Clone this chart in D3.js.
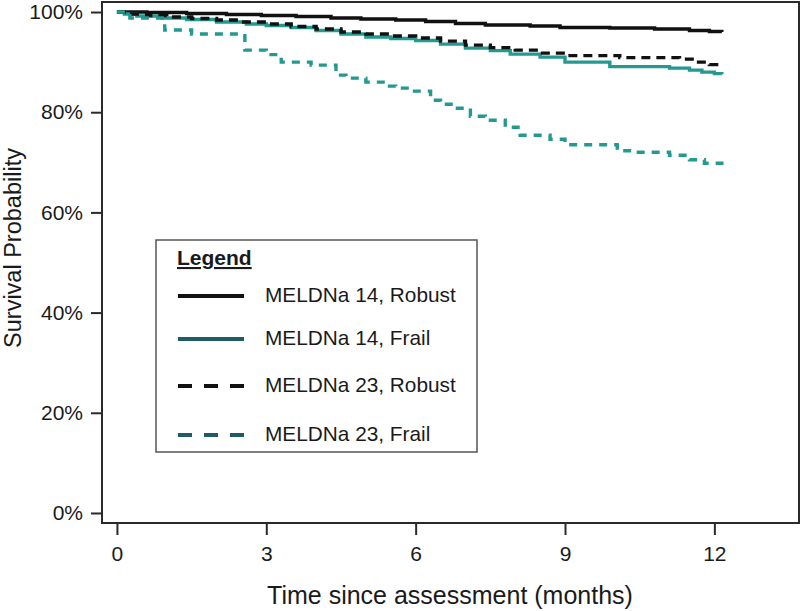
<!DOCTYPE html>
<html>
<head>
<meta charset="utf-8">
<title>Survival by MELDNa and frailty</title>
<script src="https://cdn.jsdelivr.net/npm/d3@7"></script>
<style>
    body { margin: 0; background: #ffffff; }
    svg { display: block; font-family: 'Liberation Sans', Arial, sans-serif; }
</style>
</head>
<body>
<div id="chart"></div>
<script>
// Kaplan-Meier style curves

const seriesNames = ['MELDNa 14, Robust', 'MELDNa 14, Frail', 'MELDNa 23, Robust', 'MELDNa 23, Frail'];

const robust14Time = [0, 0.6, 1.4, 2.2, 2.9, 3.6, 4.3, 4.9, 5.6, 6.2, 6.8, 7.4, 8.3, 8.9, 9.9, 10.8, 11.5, 11.9, 12.15];
const robust14Surv = [100, 99.9, 99.7, 99.5, 99.3, 99.1, 98.8, 98.6, 98.4, 98.1, 97.7, 97.4, 97.2, 96.9, 96.8, 96.6, 96.3, 96.1, 96.0];

const frail14Time = [0, 0.15, 0.4, 0.9, 1.4, 2.0, 2.6, 3.0, 3.5, 4.0, 4.5, 5.0, 5.5, 6.0, 6.5, 7.0, 7.5, 7.9, 8.5, 9.0, 9.9, 11.1, 11.5, 11.75, 12.0, 12.15];
const frail14Surv = [100, 99.6, 99.2, 98.8, 98.5, 98.0, 97.6, 97.3, 96.9, 96.3, 95.6, 95.0, 94.7, 94.3, 93.6, 92.8, 92.3, 91.6, 91.0, 90.0, 89.1, 88.8, 88.4, 88.0, 87.7, 87.6];

const robust23Time = [0, 0.2, 0.6, 1.0, 1.5, 2.0, 2.5, 3.0, 3.5, 4.0, 4.5, 5.0, 5.5, 6.0, 6.5, 7.0, 7.5, 8.0, 8.5, 9.0, 10.1, 11.3, 11.6, 11.9, 12.15];
const robust23Surv = [100, 99.6, 99.3, 99.0, 98.7, 98.4, 98.0, 97.6, 97.1, 96.6, 96.0, 95.6, 95.2, 94.8, 94.2, 93.4, 92.9, 92.4, 91.8, 91.3, 90.9, 90.6, 90.0, 89.5, 89.4];

const frail23Time = [0, 0.26, 0.96, 1.5, 2.57, 3.0, 3.3, 3.9, 4.4, 4.6, 5.0, 5.4, 5.6, 5.9, 6.3, 6.5, 6.8, 7.1, 7.4, 7.8, 8.1, 8.7, 9.0, 10.05, 10.4, 11.1, 11.5, 11.8, 12.15];
const frail23Surv = [100, 98.8, 96.4, 95.6, 92.4, 91.5, 90.0, 89.4, 87.4, 86.8, 86.0, 85.2, 84.8, 84.2, 82.4, 81.6, 80.8, 79.2, 78.4, 77.0, 75.4, 74.6, 73.5, 72.3, 72.0, 71.4, 70.5, 69.8, 69.2];

const xTicks = [0, 3, 6, 9, 12];
const yTicks = [0, 20, 40, 60, 80, 100];

// Styles per series (plot colour, legend colour, dash patterns)
const seriesStyles = [
    { color: '#111111', legendColor: '#111111', dash: null, legendDash: null },
    { color: '#23998f', legendColor: '#1f5c68', dash: null, legendDash: null },
    { color: '#111111', legendColor: '#111111', dash: '9,6', legendDash: '14,12' },
    { color: '#23998f', legendColor: '#1f5c68', dash: '8,7', legendDash: '14,12' }
];

function buildSeries() {
    const times = [robust14Time, frail14Time, robust23Time, frail23Time];
    const survs = [robust14Surv, frail14Surv, robust23Surv, frail23Surv];
    return seriesNames.map((name, i) => ({
        name: name,
        style: seriesStyles[i],
        points: times[i].map((t, j) => ({ t: t, s: survs[i][j] }))
    }));
}

function drawChart() {
    const width = 800;
    const height = 611;
    const frame = { left: 102, top: 2, right: 799, bottom: 523 };

    const svg = d3.select('#chart')
        .append('svg')
        .attr('width', width)
        .attr('height', height);

    const x = d3.scaleLinear()
        .domain([-0.3, 13.7])
        .range([frame.left, frame.right]);

    const y = d3.scaleLinear()
        .domain([-2, 102])
        .range([frame.bottom, frame.top]);

    const series = buildSeries();

    // Survival curves (step after each event)
    const line = d3.line()
        .x(d => x(d.t))
        .y(d => y(d.s))
        .curve(d3.curveStepAfter);

    svg.append('g')
        .selectAll('path')
        .data(series)
        .enter()
        .append('path')
        .attr('d', d => line(d.points))
        .attr('fill', 'none')
        .attr('stroke', d => d.style.color)
        .attr('stroke-width', 3.4)
        .attr('stroke-dasharray', d => d.style.dash);

    // Plot frame
    svg.append('rect')
        .attr('x', frame.left)
        .attr('y', frame.top)
        .attr('width', frame.right - frame.left)
        .attr('height', frame.bottom - frame.top)
        .attr('fill', 'none')
        .attr('stroke', '#2a2a2a')
        .attr('stroke-width', 2);

    // Y axis
    const yAxis = d3.axisLeft(y)
        .tickValues(yTicks)
        .tickSize(10)
        .tickPadding(8)
        .tickFormat(d => d + '%');

    const yAxisG = svg.append('g')
        .attr('transform', `translate(${frame.left - 1}, 0)`)
        .call(yAxis);

    // X axis, ticks start just below the frame
    const xAxis = d3.axisBottom(x)
        .tickValues(xTicks)
        .tickSize(11)
        .tickPadding(11);

    const xAxisG = svg.append('g')
        .attr('transform', `translate(0, ${frame.bottom + 1})`)
        .call(xAxis);

    [yAxisG, xAxisG].forEach(g => {
        g.select('.domain').remove();
        g.selectAll('.tick line').attr('stroke', '#2a2a2a').attr('stroke-width', 2);
        g.selectAll('.tick text')
            .attr('fill', '#1a1a1a')
            .style('font-size', '21px')
            .style('font-family', "'Liberation Sans', Arial, sans-serif");
    });

    // Axis titles
    svg.append('text')
        .attr('x', 450)
        .attr('y', 604)
        .attr('text-anchor', 'middle')
        .attr('fill', '#1a1a1a')
        .style('font-size', '25px')
        .text('Time since assessment (months)');

    svg.append('text')
        .attr('transform', 'translate(21, 248) rotate(-90)')
        .attr('text-anchor', 'middle')
        .attr('fill', '#1a1a1a')
        .style('font-size', '23.5px')
        .text('Survival Probability');

    drawLegend(svg, series);
}

function drawLegend(svg, series) {
    const box = { x: 156, y: 240, w: 321, h: 212 };
    const rowY = [296, 339, 386, 435];

    const legend = svg.append('g').attr('class', 'legend');

    legend.append('rect')
        .attr('x', box.x)
        .attr('y', box.y)
        .attr('width', box.w)
        .attr('height', box.h)
        .attr('fill', '#ffffff')
        .attr('stroke', '#555555')
        .attr('stroke-width', 1.5);

    legend.append('text')
        .attr('x', 177)
        .attr('y', 265)
        .attr('fill', '#1a1a1a')
        .style('font-size', '21px')
        .style('font-weight', 'bold')
        .style('text-decoration', 'underline')
        .text('Legend');

    const rows = legend.selectAll('.row')
        .data(series)
        .enter()
        .append('g')
        .attr('class', 'row')
        .attr('transform', (d, i) => `translate(0, ${rowY[i]})`);

    rows.append('line')
        .attr('x1', 178)
        .attr('x2', 244)
        .attr('stroke', d => d.style.legendColor)
        .attr('stroke-width', 4)
        .attr('stroke-dasharray', d => d.style.legendDash);

    rows.append('text')
        .attr('x', 265)
        .attr('y', 6)
        .attr('fill', '#1a1a1a')
        .style('font-size', '20.8px')
        .text(d => d.name);
}

document.addEventListener('DOMContentLoaded', drawChart);
</script>
</body>
</html>
